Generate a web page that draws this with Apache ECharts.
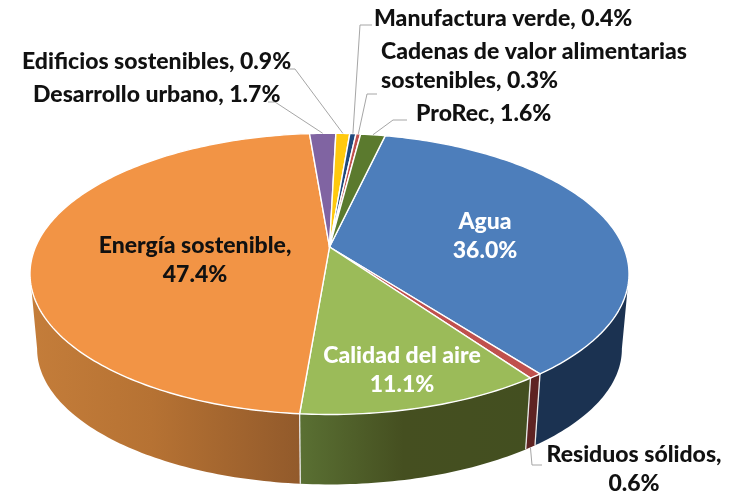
<!DOCTYPE html>
<html>
<head>
<meta charset="utf-8">
<style>html,body{margin:0;padding:0;background:#fff}#chart{width:731px;height:494px}</style>
<script src="https://cdn.jsdelivr.net/npm/echarts@6/dist/echarts.min.js"></script>
</head>
<body>
<div id="chart"></div>
<script>
// slices, clockwise, first one starts just right of 12 o'clock
var names = ['Agua', 'Residuos sólidos', 'Calidad del aire', 'Energía sostenible', 'Desarrollo urbano',
  'Edificios sostenibles', 'Manufactura verde', 'Cadenas de valor alimentarias\nsostenibles', 'ProRec'];
var values = [36.0, 0.6, 11.1, 47.4, 1.7, 0.9, 0.4, 0.3, 1.6];
var seps = ['\n', ',\n', '\n', ',\n', ', ', ', ', ', ', ', ', ', '];

var topColors = ['#4d7ebb', '#c0504d', '#9bbb59', '#f29445', '#8064a2', '#ffc90e', '#1f497d', '#c0504d', '#5b7a2e'];

// wall shading, left to right in screen space
var wallColors = {
  0: ['#1b3251', '#1b3251', '#1b3251'],
  1: ['#5e2322', '#5e2322', '#5e2322'],
  2: ['#5a7033', '#454f20', '#434f20'],
  3: ['#c47d3a', '#b67233', '#925a2b']
};

// label anchor and leader elbow, same order as names
var labelBoxes = [
  {x: 485, y: 236, align: 'center', fill: '#fff'},
  {x: 634, y: 469, align: 'center', fill: '#111', line: [[542, 465], [532, 465]], from: 'bottom'},
  {x: 402, y: 370, align: 'center', fill: '#fff'},
  {x: 195, y: 260, align: 'center', fill: '#111'},
  {x: 33, y: 95, align: 'left', fill: '#111', line: [[268, 102], [275, 102]]},
  {x: 22, y: 62, align: 'left', fill: '#111', line: [[287, 69], [295, 69]]},
  {x: 374, y: 19, align: 'left', fill: '#111', line: [[372, 25], [360, 25]]},
  {x: 381, y: 66, align: 'left', fill: '#111', line: [[377, 94], [367, 94]]},
  {x: 416, y: 114, align: 'left', fill: '#111', line: [[407, 120], [393, 120]]}
];

var startDeg = 13;
var wallFrom = 101, wallTo = 259;   // part of the rim facing the viewer

// pie disc seen in perspective: circle -> screen
var discTop = {cx: 329.5, cy: 247, r: 294, s: 135.5};
var discBottom = {cx: 329.5, cy: 323, r: 287, s: 130.6};
var tilt = 0.191;

function rim(disc, deg) {
  var a = deg * Math.PI / 180;
  var u = Math.sin(a), v = -Math.cos(a);
  var w = 1 - tilt * v;
  return [disc.cx + disc.r * u / w, disc.cy + disc.s * v / w];
}

function arc(disc, from, to) {
  var pts = [], n = Math.max(2, Math.ceil(Math.abs(to - from)));
  for (var i = 0; i <= n; i++) pts.push(rim(disc, from + (to - from) * i / n));
  return pts;
}

var total = 0, i;
for (i = 0; i < values.length; i++) total += values[i];
var starts = [], ends = [], acc = startDeg;
for (i = 0; i < values.length; i++) {
  starts.push(acc);
  acc += values[i] / total * 360;
  ends.push(acc);
}

function renderWall(params, api) {
  var idx = params.dataIndex;
  var a = Math.max(starts[idx], wallFrom), b = Math.min(ends[idx], wallTo);
  if (b <= a) return {type: 'group', children: []};
  var up = arc(discTop, a, b);
  var down = arc(discBottom, a, b).reverse();
  var xs = up.concat(down).map(function (p) { return p[0]; });
  var x0 = Math.min.apply(null, xs), x1 = Math.max.apply(null, xs);
  var c = wallColors[idx];
  var kids = [{
    type: 'polygon',
    shape: {points: up.concat(down)},
    style: {
      fill: new echarts.graphic.LinearGradient(x0, 0, x1, 0, [
        {offset: 0, color: c[0]}, {offset: 0.45, color: c[1]}, {offset: 1, color: c[2]}
      ], true)
    }
  }];
  if (starts[idx] >= wallFrom) {
    kids.push({
      type: 'line',
      shape: {x1: up[0][0], y1: up[0][1], x2: down[down.length - 1][0], y2: down[down.length - 1][1]},
      style: {stroke: '#e8e8e8', lineWidth: 1.3}
    });
  }
  return {type: 'group', children: kids};
}

function renderTop(params, api) {
  var idx = params.dataIndex;
  var pts = [[discTop.cx, discTop.cy]].concat(arc(discTop, starts[idx], ends[idx]));
  return {
    type: 'polygon',
    shape: {points: pts},
    style: {fill: topColors[idx], stroke: '#fff', lineWidth: 1.4, lineJoin: 'round'}
  };
}

function renderLabel(params, api) {
  var idx = params.dataIndex, box = labelBoxes[idx];
  var kids = [];
  if (box.line) {
    var mid = (starts[idx] + ends[idx]) / 2;
    var end = rim(box.from === 'bottom' ? discBottom : discTop, mid);
    kids.push({
      type: 'polyline',
      shape: {points: box.line.concat([end])},
      style: {stroke: '#a6a6a6', lineWidth: 1, fill: null}
    });
  }
  kids.push({
    type: 'text',
    style: {
      text: names[idx] + seps[idx] + api.value(0).toFixed(1) + '%',
      x: box.x, y: box.y,
      align: box.align, verticalAlign: 'middle',
      fontFamily: 'Lato', fontWeight: 900, fontSize: 23, lineHeight: 28.5,
      fill: box.fill
    }
  });
  return {type: 'group', children: kids};
}

var chart = echarts.init(document.getElementById('chart'));
var seriesData = values.map(function (v) { return [v]; });

chart.setOption({
  animation: false,
  backgroundColor: '#fff',
  series: [
    {type: 'custom', name: 'walls', coordinateSystem: 'none', silent: true, data: seriesData, renderItem: renderWall, z: 1},
    {type: 'custom', name: 'tops', coordinateSystem: 'none', silent: true, data: seriesData, renderItem: renderTop, z: 2},
    {type: 'custom', name: 'labels', coordinateSystem: 'none', silent: true, data: seriesData, renderItem: renderLabel, z: 3}
  ]
});
</script>
</body>
</html>
